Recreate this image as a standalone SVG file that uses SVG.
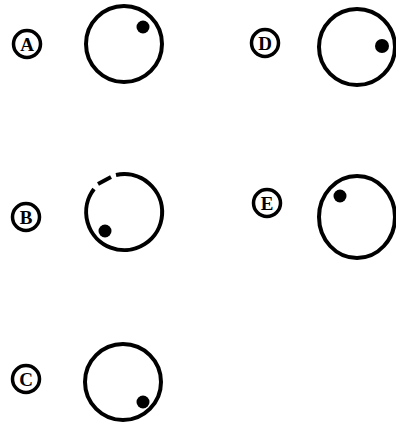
<svg xmlns="http://www.w3.org/2000/svg" width="396" height="423" viewBox="0 0 396 423">
<style>
.ring{fill:none;stroke:#000;stroke-width:4}
.dot{fill:#000}
.lab{fill:none;stroke:#000;stroke-width:3.5}
.lt{font-family:"Liberation Serif","DejaVu Serif",serif;font-weight:bold;font-size:19px;text-anchor:middle;fill:#000}
</style>
<rect width="396" height="423" fill="#fff"/>
<g id="A">
<circle class="lab" cx="27" cy="44" r="13.5"/>
<text class="lt" x="27" y="51">A</text>
<circle class="ring" cx="124" cy="44" r="38"/>
<circle class="dot" cx="143" cy="27" r="6.5"/>
</g>
<g id="D">
<circle class="lab" cx="265" cy="43" r="13.5"/>
<text class="lt" x="265" y="50">D</text>
<circle class="ring" cx="357" cy="47" r="38"/>
<circle class="dot" cx="382" cy="46" r="7"/>
</g>
<g id="B">
<circle class="lab" cx="26" cy="217" r="13.5"/>
<text class="lt" x="26" y="224">B</text>
<path class="ring" d="M116 175 A38 38 0 1 1 94 189"/>
<path class="ring" d="M98 184 L111 177"/>
<circle class="dot" cx="105" cy="231" r="6.5"/>
</g>
<g id="E">
<circle class="lab" cx="267" cy="203" r="13.5"/>
<text class="lt" x="267" y="210">E</text>
<ellipse class="ring" cx="357" cy="217" rx="38" ry="41"/>
<circle class="dot" cx="340" cy="196" r="6.5"/>
</g>
<g id="C">
<circle class="lab" cx="26" cy="379" r="13.5"/>
<text class="lt" x="26" y="386">C</text>
<circle class="ring" cx="123" cy="382" r="38"/>
<circle class="dot" cx="143" cy="402" r="6.5"/>
</g>
<g id="connectors"/>
</svg>
